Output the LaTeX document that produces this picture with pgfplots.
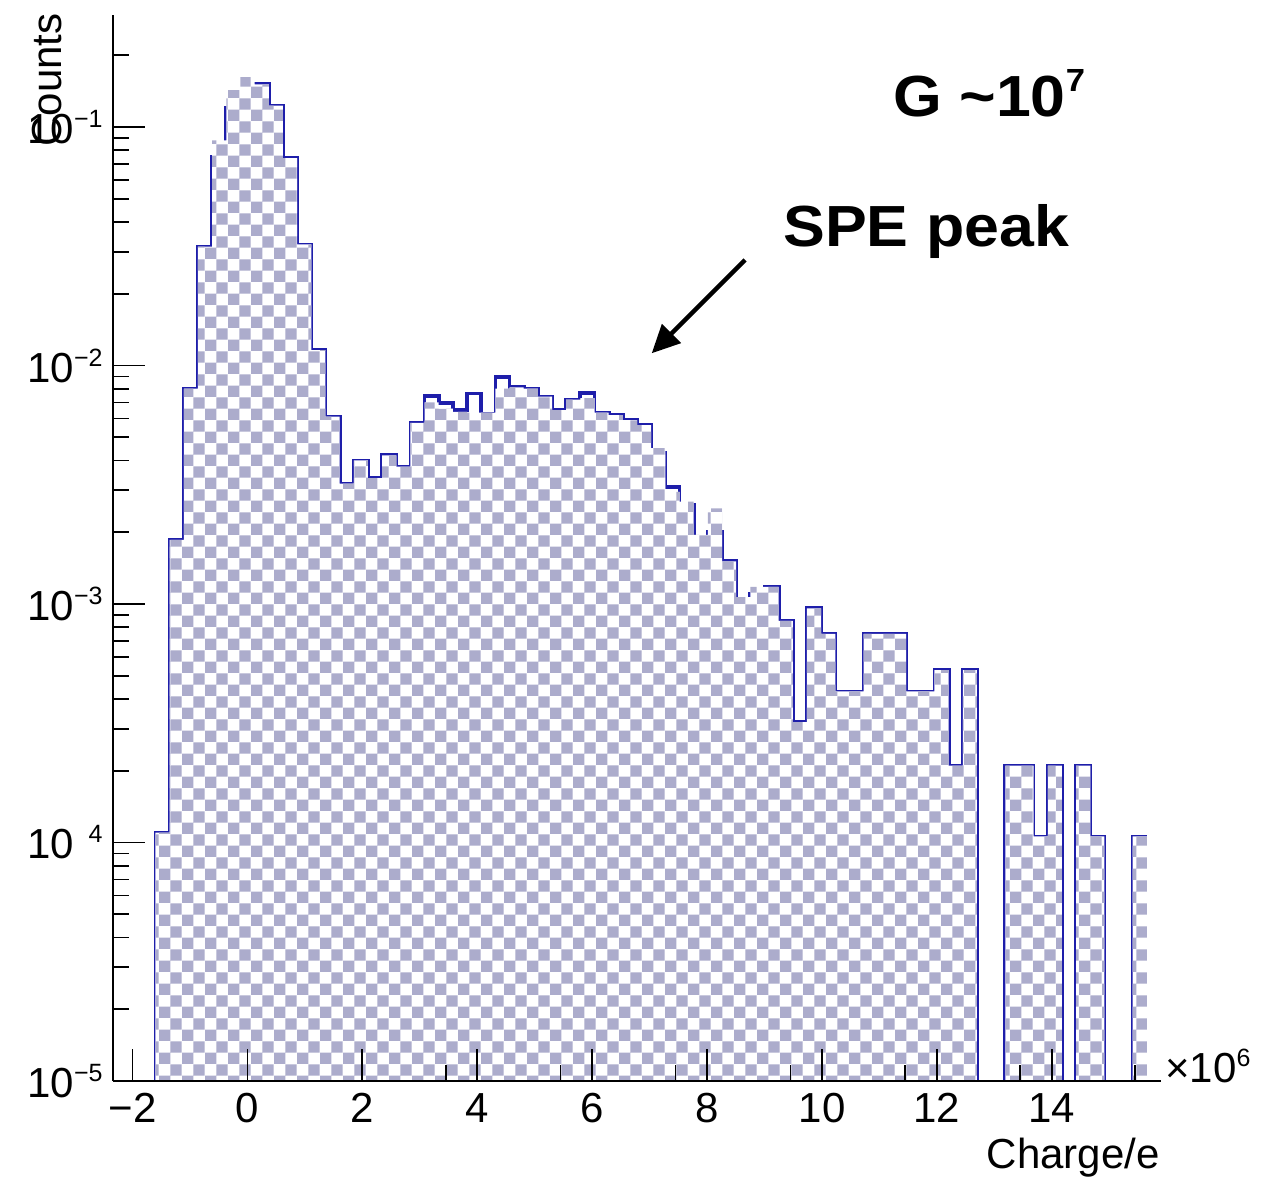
\documentclass[border=0pt]{standalone}
\usepackage{fontspec}
\setmainfont{Liberation Sans}
\newfontfamily\annfont{Liberation Sans}[FakeStretch=1.08]
\usepackage{pgfplots}
\usepackage{pgfplotstable}
\pgfplotsset{compat=1.18}
\usetikzlibrary{patterns,arrows.meta}

\definecolor{hfill}{RGB}{172,172,204}
\definecolor{hline}{RGB}{30,30,170}
\newcommand\rf{\fontsize{21}{25}\selectfont}
\newcommand\ex[1]{\raisebox{8pt}{\fontsize{12.5}{14}\selectfont #1}}

% filled histogram (bin left edges, counts; 1e-9 = empty bin / outline closure)
\pgfplotstableread{
x y
-1.6005 1e-9
-1.6005 1.1e-4
-1.354 1.86e-3
-1.1075 8.0e-3
-0.861 0.0315
-0.6145 0.088
-0.368 0.143
-0.1215 0.162
0.125 0.151
0.3715 0.123
0.618 0.074
0.8645 0.0322
1.111 0.0116
1.3575 6.1e-3
1.604 3.2e-3
1.8505 4.0e-3
2.097 3.37e-3
2.3435 4.2e-3
2.59 3.77e-3
2.8365 5.75e-3
3.083 7.0e-3
3.3295 6.6e-3
3.576 6.4e-3
3.8225 6.35e-3
4.069 6.35e-3
4.3155 8.0e-3
4.562 8.1e-3
4.8085 8.0e-3
5.055 7.4e-3
5.3015 6.5e-3
5.548 7.2e-3
5.7945 7.3e-3
6.041 6.35e-3
6.2875 6.2e-3
6.534 5.9e-3
6.7805 5.63e-3
7.027 4.5e-3
7.2735 2.95e-3
7.52 2.69e-3
7.7665 1.95e-3
8.013 2.52e-3
8.2595 1.51e-3
8.506 1.07e-3
8.7525 1.18e-3
8.999 1.18e-3
9.2455 8.5e-4
9.492 3.2e-4
9.7385 9.6e-4
9.985 7.5e-4
10.2315 4.3e-4
10.478 4.3e-4
10.7245 7.5e-4
10.971 7.5e-4
11.2175 7.5e-4
11.464 4.3e-4
11.7105 4.3e-4
11.957 5.28e-4
12.2035 2.1e-4
12.45 5.28e-4
12.6965 1e-9
12.943 1e-9
13.1895 2.1e-4
13.436 2.1e-4
13.6825 1.06e-4
13.929 2.1e-4
14.1755 1e-9
14.422 2.1e-4
14.6685 1.06e-4
14.915 1e-9
15.1615 1e-9
15.408 1.06e-4
15.6545 1e-9
}\filltab

% outlined histogram
\pgfplotstableread{
x y
-1.6005 1e-9
-1.6005 1.1e-4
-1.354 1.86e-3
-1.1075 8.0e-3
-0.861 0.0315
-0.6145 0.075
-0.368 0.12
-0.1215 0.14
0.125 0.151
0.3715 0.123
0.618 0.074
0.8645 0.0322
1.111 0.0116
1.3575 6.1e-3
1.604 3.2e-3
1.8505 4.0e-3
2.097 3.37e-3
2.3435 4.2e-3
2.59 3.77e-3
2.8365 5.75e-3
3.083 7.45e-3
3.3295 6.95e-3
3.576 6.5e-3
3.8225 7.63e-3
4.069 6.3e-3
4.3155 8.93e-3
4.562 8.1e-3
4.8085 8.0e-3
5.055 7.4e-3
5.3015 6.5e-3
5.548 7.2e-3
5.7945 7.68e-3
6.041 6.35e-3
6.2875 6.2e-3
6.534 5.9e-3
6.7805 5.63e-3
7.027 4.3e-3
7.2735 3.1e-3
7.52 2.6e-3
7.7665 1.9e-3
8.013 2.0e-3
8.2595 1.51e-3
8.506 1.0e-3
8.7525 1.1e-3
8.999 1.18e-3
9.2455 8.5e-4
9.492 3.2e-4
9.7385 9.6e-4
9.985 7.5e-4
10.2315 4.3e-4
10.478 4.3e-4
10.7245 7.5e-4
10.971 7.5e-4
11.2175 7.5e-4
11.464 4.3e-4
11.7105 4.3e-4
11.957 5.28e-4
12.2035 2.1e-4
12.45 5.28e-4
12.6965 1e-9
12.943 1e-9
13.1895 2.1e-4
13.436 2.1e-4
13.6825 1.06e-4
13.929 2.1e-4
14.1755 1e-9
14.422 2.1e-4
14.6685 1.06e-4
14.915 1e-9
15.1615 1e-9
15.408 1.06e-4
15.6545 1.06e-4
}\linetab

\begin{document}
\begin{tikzpicture}
\useasboundingbox (-56.5pt,-48.5pt) rectangle (578pt,540.5pt);
\begin{axis}[
  scale only axis, width=524pt, height=533pt,
  at={(0pt,0pt)}, anchor=south west,
  xmin=-2.34, xmax=15.9, ymin=1e-5, ymax=0.295, ymode=log,
  axis x line*=bottom, axis y line*=left,
  axis line style={-, line width=1.2pt, black},
  tick align=inside,
  xtick={-2,0,...,14},
  xticklabels={−2,0,2,4,6,8,10,12,14},
  minor xtick={3.45,5.45,7.45,9.45,11.45,13.45,15.45},
  ytick={1e-5,1e-4,1e-3,1e-2,1e-1},
  yticklabels={10\ex{−5},10\ex{\phantom{−}4},10\ex{−3},10\ex{−2},10\ex{−1}},
  minor ytick={2e-5,3e-5,4e-5,5e-5,6e-5,7e-5,8e-5,9e-5,
               2e-4,3e-4,4e-4,5e-4,6e-4,7e-4,8e-4,9e-4,
               2e-3,3e-3,4e-3,5e-3,6e-3,7e-3,8e-3,9e-3,
               2e-2,3e-2,4e-2,5e-2,6e-2,7e-2,8e-2,9e-2,2e-1},
  major tick length=16pt, minor tick length=8pt,
  every tick/.append style={black, line width=0.9pt},
  xticklabel style={font=\rf, inner sep=0pt, yshift=-6pt},
  yticklabel style={font=\rf, inner sep=0pt, xshift=-5pt},
  axis on top,
]
\addplot[const plot mark left, color=hline, line width=1.9pt, mark=none] table[x=x,y=y] {\linetab};
\addplot[const plot mark left, draw=none, mark=none, fill=white, postaction={pattern=checkerboard, pattern color=hfill}] table[x=x,y=y] {\filltab} -- cycle;
\end{axis}
\node[font=\rf, rotate=90, anchor=base east, inner sep=0pt] at (-25.5pt,534pt) {Counts};
\node[font=\rf, anchor=base east, inner sep=0pt] at (523.5pt,-43.5pt) {Charge/e};
\node[font=\rf, anchor=base west, inner sep=0pt] at (526pt,-1pt) {×10\ex{6}};
\node[font=\annfont\bfseries\fontsize{29}{34}\selectfont, anchor=base west, inner sep=0pt] at (390pt,482pt) {G \textasciitilde10\raisebox{12.5pt}{\fontsize{16}{18}\selectfont 7}};
\node[font=\annfont\bfseries\fontsize{29}{34}\selectfont, anchor=base west, inner sep=0pt] at (335pt,417pt) {SPE peak};
\draw[line width=2.2pt, -{Triangle[length=14pt,width=13pt]}] (316pt,410.5pt) -- (269.35pt,363.85pt);
\end{tikzpicture}
\end{document}
